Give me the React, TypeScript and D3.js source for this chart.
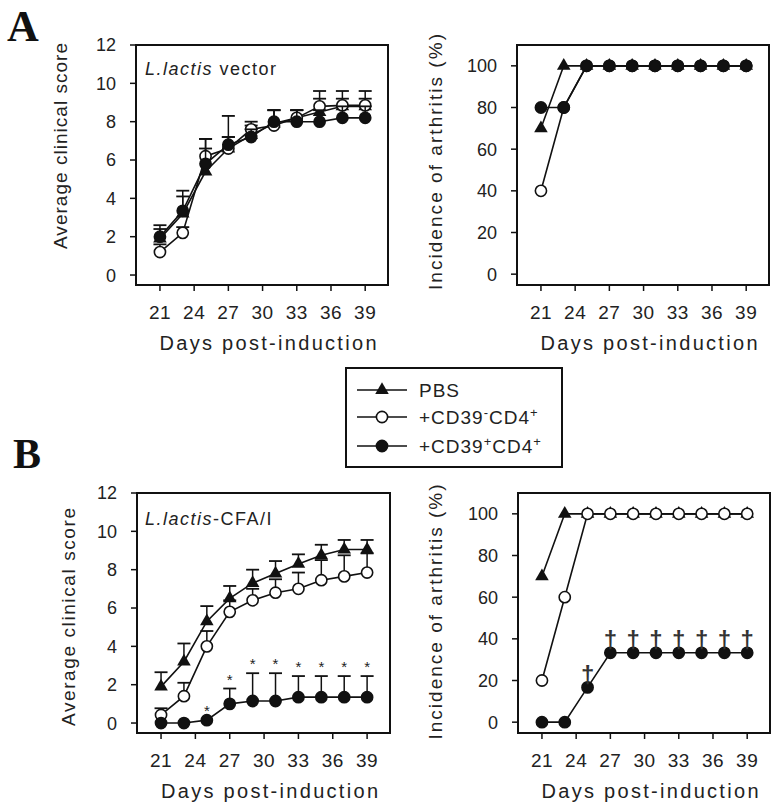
import { useEffect } from "react";
import * as d3 from "d3";

const FONT = "'Liberation Sans', Arial, sans-serif";

const days = [21, 23, 25, 27, 29, 31, 33, 35, 37, 39];
const dayTicks = [21, 24, 27, 30, 33, 36, 39];
const scoreTicks = [0, 2, 4, 6, 8, 10, 12];
const pctTicks = [0, 20, 40, 60, 80, 100];

// A: L.lactis vector, clinical score (mean, upper SEM)
const pbsScoreA = [1.9, 3.2, 5.4, 6.6, 7.3, 7.9, 8.2, 8.5, 8.8, 8.8];
const pbsScoreErrA = [0.5, 1.2, 1.2, 0.6, 0.5, 0.7, 0.4, 0.7, 0.4, 0.4];
const negScoreA = [1.2, 2.2, 6.2, 6.6, 7.6, 7.8, 8.2, 8.8, 8.85, 8.85];
const negScoreErrA = [0.4, 0.3, 0.9, 0.6, 0.4, 0.8, 0.4, 0.8, 0.75, 0.75];
const posScoreA = [2.0, 3.35, 5.8, 6.8, 7.2, 8.0, 8.0, 8.0, 8.2, 8.2];
const posScoreErrA = [0.6, 0.75, 1.3, 1.5, 0.4, 0.6, 0.6, 0.6, 0.6, 0.6];

// A: incidence (%)
const pbsIncA = [70, 100, 100, 100, 100, 100, 100, 100, 100, 100];
const negIncA = [40, 80, 100, 100, 100, 100, 100, 100, 100, 100];
const posIncA = [80, 80, 100, 100, 100, 100, 100, 100, 100, 100];

// B: L.lactis-CFA/I, clinical score
const pbsScoreB = [1.9, 3.2, 5.3, 6.5, 7.3, 7.8, 8.3, 8.75, 9.05, 9.05];
const pbsScoreErrB = [0.75, 0.95, 0.8, 0.65, 0.7, 0.65, 0.5, 0.55, 0.5, 0.5];
const negScoreB = [0.42, 1.4, 4.0, 5.8, 6.4, 6.8, 7.0, 7.45, 7.65, 7.85];
const negScoreErrB = [0.35, 0.7, 0.8, 0.6, 0.6, 0.7, 0.85, 1.05, 1.1, 1.0];
const posScoreB = [0, 0, 0.15, 1.0, 1.15, 1.15, 1.35, 1.35, 1.35, 1.35];
const posScoreErrB = [0, 0, 0, 0.8, 1.45, 1.45, 1.1, 1.1, 1.1, 1.1];
const starDaysB = [25, 27, 29, 31, 33, 35, 37, 39];

// B: incidence (%)
const pbsIncB = [70, 100, 100, 100, 100, 100, 100, 100, 100, 100];
const negIncB = [20, 60, 100, 100, 100, 100, 100, 100, 100, 100];
const posIncB = [0, 0, 16.7, 33.3, 33.3, 33.3, 33.3, 33.3, 33.3, 33.3];
const daggerDaysB = [25, 27, 29, 31, 33, 35, 37, 39];

const legendNames = ["PBS", "+CD39-CD4+", "+CD39+CD4+"];

type Shape = "tri" | "open" | "filled";
type Series = { shape: Shape; values: number[]; err?: number[] };

const triPath = d3.symbol(d3.symbolTriangle, 80)() as string;

function Marker({ shape, cx, cy }: { shape: Shape; cx: number; cy: number }) {
  if (shape === "tri") return <path d={triPath} transform={`translate(${cx},${cy})`} fill="#111" />;
  return <circle cx={cx} cy={cy} r={5.6} fill={shape === "open" ? "#fff" : "#111"} stroke="#111" strokeWidth={1.6} />;
}

type PanelProps = {
  left: number; right: number; top: number; bottom: number;
  yDomain: [number, number]; yTicks: number[]; series: Series[];
  yLabel: string; yLabelX: number; yLabelCY: number; yLabelLen: number;
  extra?: (x: d3.ScaleLinear<number, number>, y: d3.ScaleLinear<number, number>) => any;
};

function Panel(p: PanelProps) {
  const x = d3.scaleLinear().domain([18.9, 41.0]).range([p.left, p.right]);
  const y = d3.scaleLinear().domain(p.yDomain).range([p.bottom, p.top]);
  const line = d3.line<number>().x((_, i) => x(days[i])).y((v) => y(v));
  return (
    <g>
      <rect x={p.left} y={p.top} width={p.right - p.left} height={p.bottom - p.top} fill="none" stroke="#111" strokeWidth={2} />
      {p.yTicks.map((t) => (
        <g key={t}>
          <line x1={p.left - 6} x2={p.left} y1={y(t)} y2={y(t)} stroke="#111" strokeWidth={1.5} />
          <text x={p.left - 20} y={y(t)} dy="0.36em" textAnchor="end" fontSize={18} fontFamily={FONT} fill="#222">{t}</text>
        </g>
      ))}
      {dayTicks.map((t) => (
        <g key={t}>
          <line x1={x(t)} x2={x(t)} y1={p.bottom} y2={p.bottom + 6} stroke="#111" strokeWidth={1.5} />
          <text x={x(t)} y={p.bottom + 34} textAnchor="middle" fontSize={19} fontFamily={FONT} fill="#222" letterSpacing={0.5}>{t}</text>
        </g>
      ))}
      <text x={(p.left + p.right) / 2 + 6} y={p.bottom + 65} textAnchor="middle" fontSize={20} fontFamily={FONT} fill="#222" textLength={217} lengthAdjust="spacing">Days post-induction</text>
      <text transform={`translate(${p.yLabelX},${p.yLabelCY}) rotate(-90)`} textAnchor="middle" fontSize={19} fontFamily={FONT} fill="#222" textLength={p.yLabelLen} lengthAdjust="spacing">{p.yLabel}</text>
      {p.series.map((s, si) => (
        <g key={si}>
          {s.err && s.err.map((e, i) => e > 0 ? (
            <g key={i}>
              <line x1={x(days[i])} x2={x(days[i])} y1={y(s.values[i])} y2={y(s.values[i] + e)} stroke="#111" strokeWidth={1.5} />
              <line x1={x(days[i]) - 6.5} x2={x(days[i]) + 6.5} y1={y(s.values[i] + e)} y2={y(s.values[i] + e)} stroke="#111" strokeWidth={1.8} />
            </g>
          ) : null)}
          <path d={line(s.values) as string} fill="none" stroke="#111" strokeWidth={1.6} />
          {s.values.map((v, i) => <Marker key={i} shape={s.shape} cx={x(days[i])} cy={y(v)} />)}
        </g>
      ))}
      {p.extra && p.extra(x, y)}
    </g>
  );
}

function LegendText({ name, x, y }: { name: string; x: number; y: number }) {
  if (name === "PBS") return <text x={x} y={y} dy="0.36em" fontSize={19} fontFamily={FONT} fill="#222" letterSpacing={1}>PBS</text>;
  const mid = name.slice(5, 6);
  return (
    <text x={x} y={y} dy="0.36em" fontSize={19} fontFamily={FONT} fill="#222" letterSpacing={1}>
      +CD39<tspan dy={-7} fontSize={13}>{mid}</tspan><tspan dy={7}>CD4</tspan><tspan dy={-7} fontSize={13}>+</tspan>
    </text>
  );
}

export default function App() {
  useEffect(() => { document.body.style.margin = "0"; }, []);
  const scoreDom: [number, number] = [-0.52, 12];
  const pctDom: [number, number] = [-5.2, 110];
  const shapes: Shape[] = ["tri", "open", "filled"];
  const legendY = [390, 417, 446];
  return (
    <svg width={777} height={810} style={{ display: "block", background: "#fff" }}>
      <text x={7} y={41} fontSize={44} fontWeight="bold" fontFamily="'Liberation Serif', 'Times New Roman', serif" fill="#111">A</text>
      <text x={13} y={468} fontSize={42} fontWeight="bold" fontFamily="'Liberation Serif', 'Times New Roman', serif" fill="#111">B</text>

      <Panel left={136} right={388} top={45} bottom={285} yDomain={scoreDom} yTicks={scoreTicks}
        series={[
          { shape: "tri", values: pbsScoreA, err: pbsScoreErrA },
          { shape: "open", values: negScoreA, err: negScoreErrA },
          { shape: "filled", values: posScoreA, err: posScoreErrA },
        ]}
        yLabel="Average clinical score" yLabelX={67} yLabelCY={146} yLabelLen={206}
        extra={() => (
          <text x={145} y={75} fontSize={18} fontFamily={FONT} fill="#222" letterSpacing={1.5}>
            <tspan fontStyle="italic">L.lactis</tspan> vector
          </text>
        )} />

      <Panel left={517} right={769} top={45} bottom={285} yDomain={pctDom} yTicks={pctTicks}
        series={[
          { shape: "tri", values: pbsIncA },
          { shape: "open", values: negIncA },
          { shape: "filled", values: posIncA },
        ]}
        yLabel="Incidence of arthritis (%)" yLabelX={442} yLabelCY={162} yLabelLen={256} />

      <Panel left={137} right={390} top={493} bottom={733} yDomain={scoreDom} yTicks={scoreTicks}
        series={[
          { shape: "tri", values: pbsScoreB, err: pbsScoreErrB },
          { shape: "open", values: negScoreB, err: negScoreErrB },
          { shape: "filled", values: posScoreB, err: posScoreErrB },
        ]}
        yLabel="Average clinical score" yLabelX={75} yLabelCY={617} yLabelLen={218}
        extra={(x, y) => (
          <g>
            <text x={145} y={525} fontSize={18} fontFamily={FONT} fill="#222" letterSpacing={1.5}>
              <tspan fontStyle="italic">L.lactis</tspan>-CFA/I
            </text>
            {starDaysB.map((d) => {
              const i = days.indexOf(d);
              const top = y(posScoreB[i] + posScoreErrB[i]);
              return <text key={d} x={x(d)} y={top - 12} dy="0.55em" textAnchor="middle" fontSize={15} fontFamily={FONT} fill="#222">*</text>;
            })}
          </g>
        )} />

      <Panel left={518} right={770} top={493} bottom={733} yDomain={pctDom} yTicks={pctTicks}
        series={[
          { shape: "tri", values: pbsIncB },
          { shape: "open", values: negIncB },
          { shape: "filled", values: posIncB },
        ]}
        yLabel="Incidence of arthritis (%)" yLabelX={442} yLabelCY={612} yLabelLen={255}
        extra={(x, y) => (
          <g>
            {daggerDaysB.map((d) => {
              const i = days.indexOf(d);
              return <text key={d} x={x(d)} y={y(posIncB[i]) - 12} dy="0.3em" textAnchor="middle" fontSize={24} fontWeight="bold" fontFamily={FONT} fill="#333">†</text>;
            })}
          </g>
        )} />

      <rect x={346} y={368} width={216} height={99} fill="none" stroke="#111" strokeWidth={2} />
      {legendNames.map((n, i) => (
        <g key={n}>
          <line x1={357} x2={407} y1={legendY[i]} y2={legendY[i]} stroke="#111" strokeWidth={1.6} />
          <Marker shape={shapes[i]} cx={382} cy={legendY[i]} />
          <LegendText name={n} x={419} y={legendY[i]} />
        </g>
      ))}
    </svg>
  );
}
